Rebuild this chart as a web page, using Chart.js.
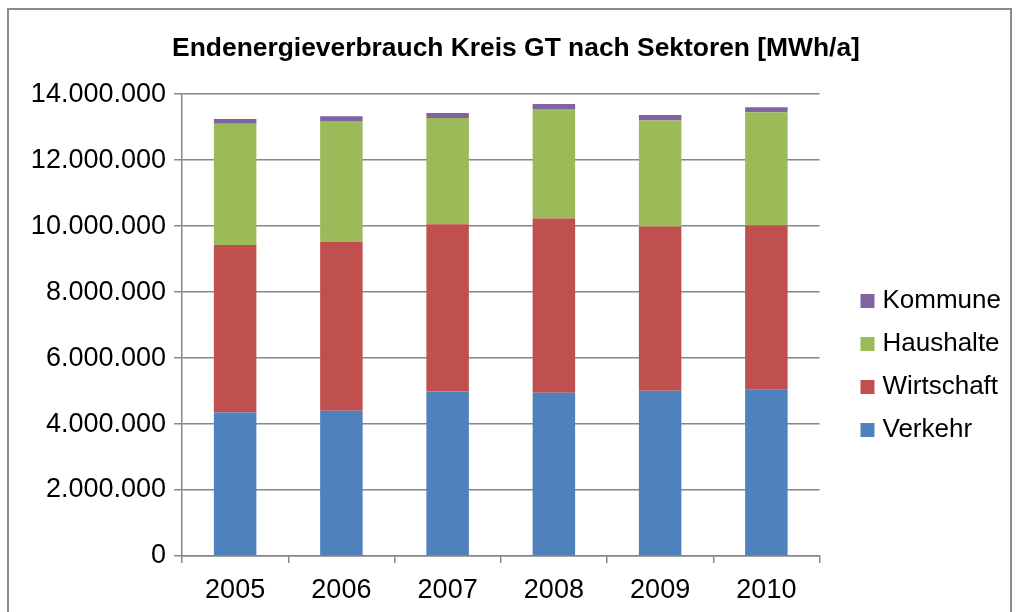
<!DOCTYPE html>
<html>
<head>
<meta charset="utf-8">
<script src="https://cdn.jsdelivr.net/npm/chart.js@4.4.0/dist/chart.umd.min.js"></script>
<style>
    body { margin: 0; background: #fff; }
    #wrap { position: relative; width: 1018px; height: 612px; overflow: hidden; }
    #frame {
        position: absolute; left: 7px; top: 8px; width: 1001px; height: 700px;
        border: 2px solid #8a8a8a; pointer-events: none;
    }
</style>
</head>
<body>
<div id="wrap">
    <canvas id="energyChart" width="1018" height="612"></canvas>
    <div id="frame"></div>
</div>
<script>
// ========== DATA ========== //
const years = ["2005", "2006", "2007", "2008", "2009", "2010"];
const verkehr    = [4350000, 4400000, 4990000, 4950000, 5010000, 5040000];
const wirtschaft = [5080000, 5120000, 5070000, 5280000, 4980000, 4980000];
const haushalte  = [3670000, 3670000, 3220000, 3320000, 3210000, 3430000];
const kommune    = [150000, 140000, 150000, 150000, 170000, 150000];
const yTicks = [0, 2000000, 4000000, 6000000, 8000000, 10000000, 12000000, 14000000];

const FONT = "'Liberation Sans', Arial, sans-serif";
const GRID = "#868686";

function dotted(v) {
    return String(v).replace(/\B(?=(\d{3})+(?!\d))/g, ".");
}

function series(label, data, color) {
    return {
        label: label,
        data: data,
        backgroundColor: color,
        borderWidth: 0,
        barPercentage: 0.4,
        categoryPercentage: 1.0
    };
}

// ========== CHART ========== //
const ctx = document.getElementById("energyChart");
new Chart(ctx, {
    type: "bar",
    data: {
        labels: years,
        datasets: [
            series("Verkehr", verkehr, "#4F81BD"),
            series("Wirtschaft", wirtschaft, "#C0504D"),
            series("Haushalte", haushalte, "#9BBB59"),
            series("Kommune", kommune, "#8064A2")
        ]
    },
    options: {
        responsive: false,
        animation: false,
        layout: { padding: { left: 21, right: 7, top: 0, bottom: 0 } },
        plugins: {
            title: {
                display: true,
                text: "Endenergieverbrauch Kreis GT nach Sektoren [MWh/a]",
                color: "#000",
                font: { family: FONT, size: 26.4, weight: "bold" },
                padding: { top: 33, bottom: 29.5 }
            },
            legend: {
                position: "right",
                reverse: true,
                // empty title only pushes the items down
                title: { display: true, text: "", font: { size: 1 }, padding: 59 },
                labels: {
                    color: "#000",
                    font: { family: FONT, size: 26 },
                    usePointStyle: true,
                    pointStyle: "rect",
                    boxWidth: 4,
                    boxHeight: 14,
                    padding: 17
                }
            },
            tooltip: { enabled: false }
        },
        scales: {
            x: {
                stacked: true,
                grid: { offset: true, drawOnChartArea: false, color: GRID, lineWidth: 1.5, tickLength: 7 },
                border: { color: GRID, width: 1.5 },
                ticks: { color: "#000", font: { family: FONT, size: 27 }, padding: 11 },
                afterFit: s => { s.height = 56; }
            },
            y: {
                stacked: true,
                min: 0,
                max: 14000000,
                afterBuildTicks: s => { s.ticks = yTicks.map(v => ({ value: v })); },
                grid: { color: GRID, lineWidth: 1.5, tickLength: 8 },
                border: { color: GRID, width: 1.5 },
                ticks: {
                    color: "#000",
                    font: { family: FONT, size: 27 },
                    padding: 8,
                    callback: v => dotted(v)
                },
                afterFit: s => { s.width = 161; }
            },
            // spacer between plot and legend
            gap: {
                position: "right",
                display: true,
                grid: { display: false },
                border: { display: false },
                ticks: { display: false },
                afterFit: s => { s.width = 29; }
            }
        }
    }
});
</script>
</body>
</html>
